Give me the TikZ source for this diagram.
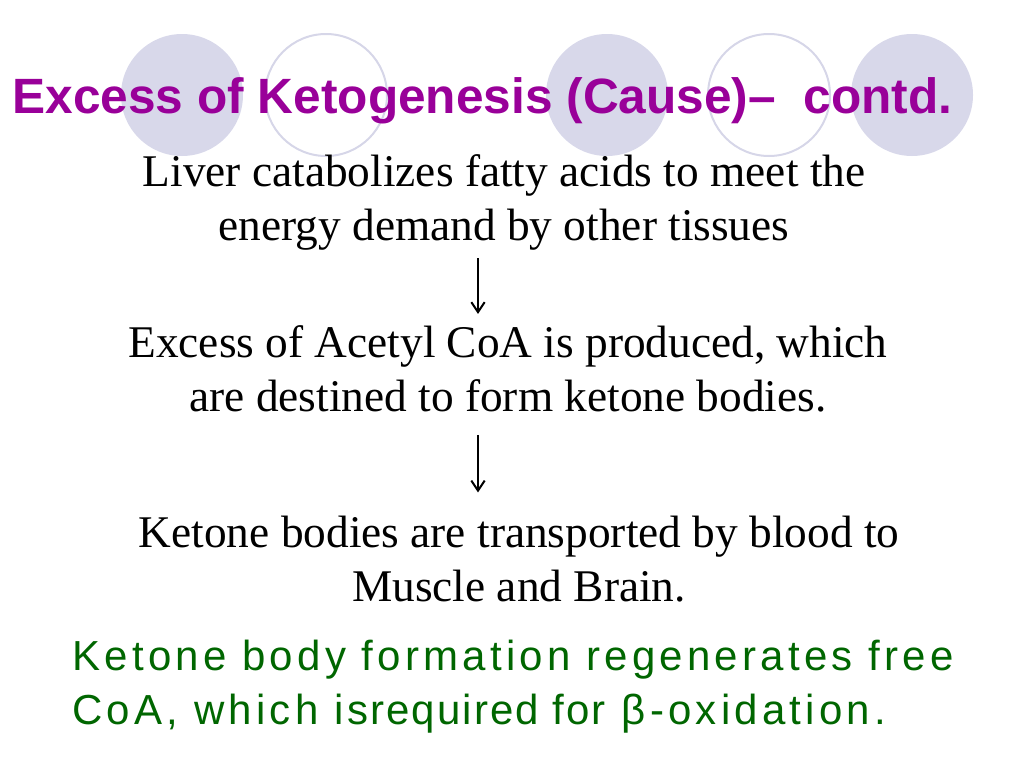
\documentclass[tikz,border=0pt]{standalone}
\usepackage{fontspec}
\setmainfont{Liberation Serif}
\newfontfamily\headfont{Liberation Sans}
\newfontfamily\notefont[LetterSpace=10]{Liberation Sans}
\newfontfamily\tightfont[LetterSpace=5]{Liberation Sans}
\usetikzlibrary{arrows.meta}

\definecolor{bubblefill}{RGB}{216,216,234}
\definecolor{ringline}{RGB}{214,214,232}
\definecolor{headpurple}{RGB}{153,0,153}
\definecolor{notegreen}{RGB}{0,102,0}

\tikzset{every picture/.style={line width=0.75pt}}
\tikzset{
  bubble/.style={fill=bubblefill, draw=none},
  ring/.style={draw=ringline, line width=1.5},
  stagetext/.style={font=\fontsize{34}{40.5}\selectfont, align=center, inner sep=0pt, anchor=base},
  downarrow/.style={-{Straight Barb[length=7.5pt,width=10pt]}, line width=1.5pt}
}

\begin{document}
\begin{tikzpicture}[x=0.75pt,y=0.75pt,yscale=-1,xscale=1]
	\useasboundingbox (0,0) rectangle (1024,768);
	
	%Shape: Circle [id:bubble1]
	\draw [bubble] (182,95) circle (61);
	%Shape: Circle [id:ring1]
	\draw [ring] (326,95) circle (61);
	%Shape: Circle [id:bubble2]
	\draw [bubble] (607,95) circle (61);
	%Shape: Circle [id:ring2]
	\draw [ring] (769,95) circle (61);
	%Shape: Circle [id:bubble3]
	\draw [bubble] (912,95) circle (61);
	
	% Text Node
	\node (title) at (12,113) [anchor=base west][inner sep=0pt] {\headfont\bfseries\fontsize{37.2}{44}\selectfont\color{headpurple}Excess of Ketogenesis (Cause)–\ \ contd.};
	% Text Node
	\node (liver) at (504,240) [stagetext] {Liver catabolizes fatty acids to meet the\\ energy demand by other tissues};
	% Text Node
	\node (acetyl) at (508,411) [stagetext] {Excess of Acetyl CoA is produced, which\\ are destined to form ketone bodies.};
	% Text Node
	\node (ketone) at (519,601) [stagetext] {Ketone bodies are transported by blood to\\ Muscle and Brain.};
	% Text Node
	\node (note) at (72,724) [anchor=base west][inner sep=0pt][align=left][font=\notefont\fontsize{31.5}{40.5}\selectfont][text=notegreen] {Ketone body formation regenerates free\\ CoA, which is\kern1pt{\tightfont required for} β-oxidation.};
	
	\coordinate (axis) at (478,0);
	%Straight Lines [id:arrow1]
	\draw [downarrow, shorten <=6pt, shorten >=8pt] (liver.south -| axis) -- (acetyl.north -| axis);
	%Straight Lines [id:arrow2]
	\draw [downarrow, shorten <=17pt, shorten >=17pt] (acetyl.south -| axis) -- (ketone.north -| axis);
	
\end{tikzpicture}
\end{document}
